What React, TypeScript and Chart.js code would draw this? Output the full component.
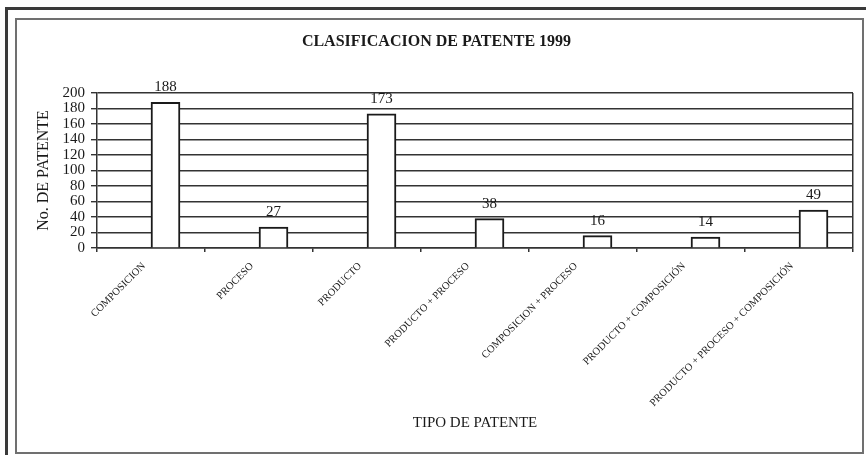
import React, { useEffect, useRef } from "react";
import { Chart, registerables } from "chart.js";

Chart.register(...registerables);

const chartTitle = "CLASIFICACION DE PATENTE 1999";
const xAxisTitle = "TIPO DE PATENTE";
const yAxisTitle = "No. DE PATENTE";

const categories = [
  "COMPOSICION",
  "PROCESO",
  "PRODUCTO",
  "PRODUCTO + PROCESO",
  "COMPOSICION + PROCESO",
  "PRODUCTO + COMPOSICIÓN",
  "PRODUCTO + PROCESO + COMPOSICIÓN",
];
const patentCounts = [188, 27, 173, 38, 16, 14, 49];
const yTicks = [0, 20, 40, 60, 80, 100, 120, 140, 160, 180, 200];

const FONT = '"Liberation Serif", "Times New Roman", serif';
const INK = "#1a1a1a";

const valueLabels = {
  id: "valueLabels",
  afterDatasetsDraw(chart: any) {
    const meta = chart.getDatasetMeta(1);
    const ctx = chart.ctx;
    ctx.save();
    ctx.font = `15px ${FONT}`;
    ctx.fillStyle = INK;
    ctx.textAlign = "center";
    ctx.textBaseline = "alphabetic";
    meta.data.forEach((bar: any, i: number) => {
      ctx.fillText(String(patentCounts[i]), bar.x, bar.y - 11);
    });
    ctx.restore();
  },
};

export default function App() {
  const ref = useRef<HTMLCanvasElement | null>(null);

  useEffect(() => {
    if (!ref.current) return;
    Chart.defaults.font.family = FONT;
    Chart.defaults.color = INK;
    const chart = new Chart(ref.current, {
      type: "bar",
      data: {
        labels: categories,
        datasets: [
          {
            label: "spacer",
            data: categories.map(() => null),
            barThickness: 29,
            backgroundColor: "rgba(0,0,0,0)",
          },
          {
            label: "No. de patente",
            data: patentCounts,
            backgroundColor: "#ffffff",
            borderColor: INK,
            borderWidth: 2,
            barThickness: 29,
          },
        ],
      },
      options: {
        animation: false,
        responsive: false,
        devicePixelRatio: 1,
        layout: { padding: { left: 20, right: 13, top: 0, bottom: 12 } },
        plugins: {
          legend: { display: false },
          tooltip: { enabled: false },
          title: {
            display: true,
            text: chartTitle,
            color: INK,
            font: { size: 16, weight: "bold", family: FONT },
            padding: { top: 32, bottom: 41.8 },
          },
        },
        scales: {
          x: {
            type: "category",
            offset: true,
            grid: {
              offset: true,
              drawOnChartArea: true,
              drawTicks: true,
              tickLength: 4,
              lineWidth: 1.5,
              color: (c: any) => (c.index === undefined ? "#333" : "rgba(0,0,0,0)"),
              tickColor: "#333",
            },
            border: { display: true, color: "#333", width: 1.5 },
            ticks: {
              autoSkip: false,
              minRotation: 45,
              maxRotation: 45,
              padding: 8,
              labelOffset: -7,
              color: INK,
              font: { size: 10.5, family: FONT },
            },
            title: {
              display: true,
              text: xAxisTitle,
              color: INK,
              font: { size: 15, family: FONT },
              padding: { top: 0, bottom: 11 },
            },
            afterFit: (s: any) => {
              s.height = 195;
            },
          },
          y: {
            min: 0,
            max: 200,
            afterBuildTicks: (s: any) => {
              s.ticks = yTicks.map((v) => ({ value: v }));
            },
            grid: {
              color: "#333",
              lineWidth: 1.4,
              tickLength: 6,
              drawTicks: true,
            },
            border: { display: true, color: "#333", width: 1.5 },
            ticks: {
              autoSkip: false,
              padding: 6,
              color: INK,
              font: { size: 15, family: FONT },
            },
            title: {
              display: true,
              text: yAxisTitle,
              color: INK,
              font: { size: 16, family: FONT },
              padding: { top: 14, bottom: 0 },
            },
            afterFit: (s: any) => {
              s.width = 77;
            },
          },
        },
      },
      plugins: [valueLabels],
    });
    return () => chart.destroy();
  }, []);

  return (
    <div style={{ position: "absolute", left: 0, top: 0, width: 866, height: 455, background: "#fff", overflow: "hidden" }}>
      <div
        style={{
          position: "absolute",
          left: 5,
          top: 7,
          width: 870,
          height: 460,
          borderTop: "3px solid #3a3a3a",
          borderLeft: "3px solid #3a3a3a",
        }}
      />
      <div
        style={{
          position: "absolute",
          left: 15,
          top: 18,
          width: 845,
          height: 432,
          border: "2px solid #707070",
        }}
      />
      <canvas ref={ref} width={866} height={455} style={{ position: "absolute", left: 0, top: 0, display: "block" }} />
    </div>
  );
}
